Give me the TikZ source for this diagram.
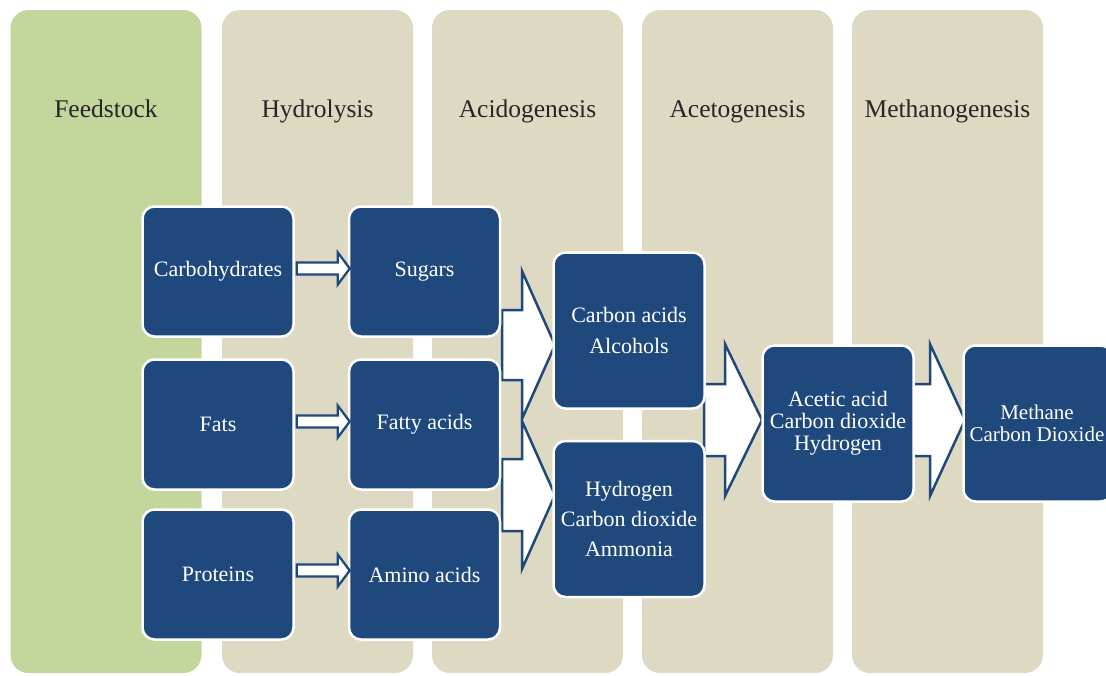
\documentclass[tikz,border=0pt]{standalone}
\usepackage{fontspec}
\setmainfont{Liberation Serif}
\usetikzlibrary{calc}
\definecolor{colgreen}{HTML}{C3D69B}
\definecolor{colbeige}{HTML}{DDD9C3}
\definecolor{boxblue}{HTML}{1F497D}
\definecolor{titlegray}{HTML}{262626}
\newcommand\blockarrow[6][bigarr]{% tip, head length, half head, half shaft, shaft length
  \draw[#1] (#2) -- ++(-#3,-#4) -- ++(0,#4-#5) -- ++(-#6,0) -- ++(0,2*#5) -- ++(#6,0) -- ++(0,#4-#5) -- cycle;}
\tikzset{
  column/.style={rectangle, rounded corners=18pt, inner sep=0pt, minimum width=191pt, minimum height=663pt},
  coltitle/.style={text=titlegray, anchor=base, font=\fontsize{25.5}{27}\selectfont},
  stepbox/.style={rectangle, rounded corners=12pt, fill=boxblue, draw=white, line width=2.5pt,
    text=white, align=center, inner sep=0pt, minimum width=151pt, font=\fontsize{22}{22}\selectfont},
  smallbox/.style={stepbox, minimum height=130pt},
  tallbox/.style={stepbox, minimum height=156pt},
  bigarr/.style={draw=boxblue, fill=white, line width=2.5pt, line join=miter},
  smallarr/.style={draw=boxblue, fill=white, line width=2.3pt, line join=miter},
}
\begin{document}
\begin{tikzpicture}[x=1pt,y=-1pt]
\useasboundingbox (0,0) rectangle (1106,675);
\clip (0,0) rectangle (1106,675);
\fill[white] (0,0) rectangle (1106,675);
% columns
\node[column, fill=colgreen] (c1) at (106,341.5) {};
\node[column, fill=colbeige] (c2) at (317.5,341.5) {};
\node[column, fill=colbeige] (c3) at (527.5,341.5) {};
\node[column, fill=colbeige] (c4) at (737.5,341.5) {};
\node[column, fill=colbeige] (c5) at (947.5,341.5) {};
\node[coltitle] (t1) at (106,117) {Feedstock};
\node[coltitle] (t2) at (317.5,117) {Hydrolysis};
\node[coltitle] (t3) at (527.5,117) {Acidogenesis};
\node[coltitle] (t4) at (737.5,117) {Acetogenesis};
\node[coltitle] (t5) at (947.5,117) {Methanogenesis};
% big block arrows
\coordinate (a1) at (555,345);
\coordinate (a2) at (555,495);
\coordinate (a3) at (762,420);
\coordinate (a4) at (965,420);
\blockarrow{a1}{33}{74}{35}{20}
\blockarrow{a2}{33}{74}{36}{20}
\blockarrow{a3}{37}{76}{36}{21}
\blockarrow{a4}{35}{76}{36}{18}
% boxes
\node[smallbox] (carb) at (218,271.5) {Carbohydrates};
\node[smallbox] (sug) at (424.5,271.5) {Sugars};
\node[smallbox] (fats) at (218,424.5) {Fats};
\node[smallbox] (fatty) at (424.5,424.5) {Fatty acids};
\node[smallbox] (prot) at (218,574.5) {Proteins};
\node[smallbox] (amino) at (424.5,574.5) {Amino acids};
\node[tallbox, font=\fontsize{22}{31}\selectfont] (ca) at (629,330.5) {Carbon acids\\Alcohols};
\node[tallbox, font=\fontsize{22}{30}\selectfont] (hy) at (629,519) {Hydrogen\\Carbon dioxide\\Ammonia};
\node[tallbox] (ac) at (838,423.5) {Acetic acid\\Carbon dioxide\\Hydrogen};
\node[tallbox, minimum width=149pt] (me) at (1038,423.5) {};
\node[text=white, align=center, inner sep=0pt, font=\fontsize{21}{22}\selectfont] (metext) at (1037,423.5) {Methane\\Carbon Dioxide};
% small arrows
\coordinate (s1) at ($(sug.west)+(2,-3)$);
\coordinate (s2) at ($(fatty.west)+(2,-3)$);
\coordinate (s3) at ($(amino.west)+(2,-4)$);
\blockarrow[smallarr]{s1}{12}{16}{6}{41}
\blockarrow[smallarr]{s2}{12}{16}{6}{41}
\blockarrow[smallarr]{s3}{12}{16}{6}{41}
\end{tikzpicture}
\end{document}
